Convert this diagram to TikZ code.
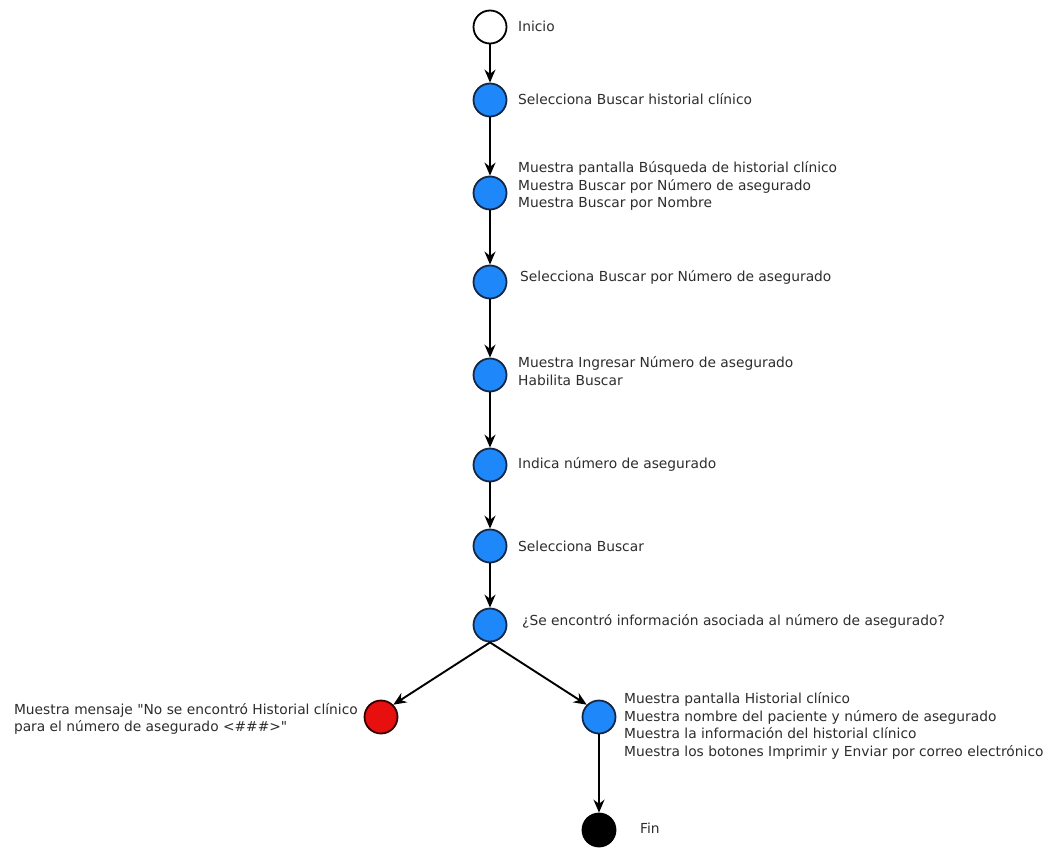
\documentclass[tikz,border=0pt]{standalone}
\usepackage{fontspec}
\setmainfont{DejaVu Sans}
\usetikzlibrary{arrows.meta}
\definecolor{actfill}{RGB}{30,136,250}
\definecolor{actline}{RGB}{20,40,70}
\definecolor{errfill}{RGB}{232,16,15}
\definecolor{txt}{RGB}{45,45,45}
\tikzset{
  state/.style={circle, minimum size=33pt, inner sep=0pt, line width=1.8pt},
  act/.style={state, draw=actline, fill=actfill},
  startst/.style={state, draw=black, fill=white},
  errst/.style={state, draw=black!80!red, fill=errfill},
  endst/.style={state, draw=black, fill=black},
  lbl/.style={anchor=west, text=txt, font=\fontsize{13.8}{17.6}\selectfont, align=left, inner sep=0pt},
  lblr/.style={lbl, anchor=east},
  flow/.style={-{Stealth[length=13pt,width=11pt]}, line width=1.9pt, black}
}
\begin{document}
\begin{tikzpicture}[x=1pt,y=-1pt]
\useasboundingbox (0,0) rectangle (1055,851);
% states
\node[startst] (s0) at (490,27) {};
\node[act] (s1) at (490,100) {};
\node[act] (s2) at (490,193) {};
\node[act] (s3) at (490,282) {};
\node[act] (s4) at (490,375) {};
\node[act] (s5) at (490,465) {};
\node[act] (s6) at (490,546) {};
\node[act] (s7) at (490,625) {};
\node[errst] (e1) at (381,717) {};
\node[act] (s8) at (599,717) {};
\node[endst] (s9) at (599,830) {};
% labels
\node[lbl] (t0) at (518,26) {Inicio};
\node[lbl] (t1) at (518,99) {Selecciona Buscar historial clínico};
\node[lbl] (t2) at (518,186) {Muestra pantalla Búsqueda de historial clínico\\Muestra Buscar por Número de asegurado\\Muestra Buscar por Nombre};
\node[lbl] (t3) at (520,277) {Selecciona Buscar por Número de asegurado};
\node[lbl] (t4) at (518,371) {Muestra Ingresar Número de asegurado\\Habilita Buscar};
\node[lbl] (t5) at (518,464) {Indica número de asegurado};
\node[lbl] (t6) at (518,546) {Selecciona Buscar};
\node[lbl] (t7) at (522,621) {¿Se encontró información asociada al número de asegurado?};
\node[lblr] (te) at (358,719) {Muestra mensaje \textquotedbl No se encontró Historial clínico\\para el número de asegurado <\#\#\#>\textquotedbl};
\node[lbl] (t8) at (624,726) {Muestra pantalla Historial clínico\\Muestra nombre del paciente y número de asegurado\\Muestra la información del historial clínico\\Muestra los botones Imprimir y Enviar por correo electrónico};
\node[lbl] (t9) at (640,828) {Fin};
% transitions
\draw[flow] (s0) -- (s1);
\draw[flow] (s1) -- (s2);
\draw[flow] (s2) -- (s3);
\draw[flow] (s3) -- (s4);
\draw[flow] (s4) -- (s5);
\draw[flow] (s5) -- (s6);
\draw[flow] (s6) -- (s7);
\draw[flow] (s7.south) -- (e1.north east);
\draw[flow] (s7.south) -- (s8.north west);
\draw[flow] (s8) -- (s9);
\end{tikzpicture}
\end{document}
